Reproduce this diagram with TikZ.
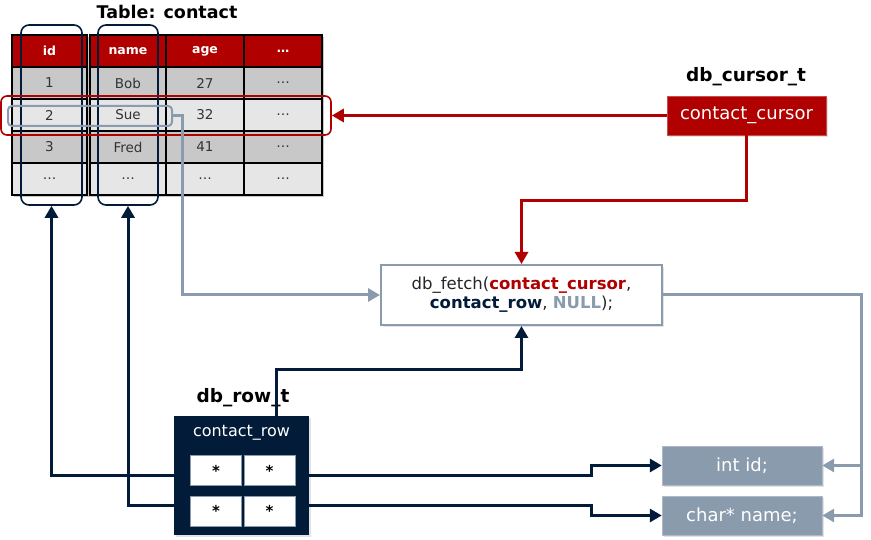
\documentclass[tikz,border=0pt]{standalone}
\usepackage{fontspec}
\setmainfont{DejaVu Sans}
\usetikzlibrary{arrows.meta,calc,positioning,shadows}
\definecolor{dbred}{RGB}{176,0,0}
\definecolor{dbnavy}{RGB}{2,27,56}
\definecolor{dbgray}{RGB}{138,155,174}
\definecolor{rowdark}{RGB}{200,200,200}
\definecolor{rowlight}{RGB}{230,230,230}
\tikzset{%
	shade/.style      = {drop shadow={shadow xshift=2pt, shadow yshift=-2pt, fill=black!22}},
	cell/.style       = {draw=black, line width=1.6pt, minimum height=32pt, inner sep=0pt, text=black!80, font=\fontsize{13.5}{15}\selectfont},
	headcell/.style   = {cell, fill=dbred, text=white, font=\fontsize{12.5}{15}\selectfont\bfseries},
	colmark/.style    = {draw=dbnavy, line width=1.6pt, rounded corners=8pt, minimum width=61pt, minimum height=180pt},
	rowmark/.style    = {draw=dbred, line width=1.6pt, rounded corners=6pt, minimum width=330pt, minimum height=39pt},
	keymark/.style    = {draw=dbgray, line width=2pt, rounded corners=4pt, minimum width=164pt, minimum height=20pt},
	typelabel/.style  = {font=\fontsize{18.5}{20}\selectfont\bfseries},
	cursorbox/.style  = {shade, fill=dbred, draw=dbred!70!white, text=white, minimum width=159pt, minimum height=39pt, font=\fontsize{18}{20}\selectfont},
	fetchbox/.style   = {shade, fill=white, draw=dbgray, line width=2pt, minimum width=281pt, minimum height=60pt, align=center, text=black!85, font=\fontsize{16.5}{19}\selectfont},
	rowbox/.style     = {shade, fill=dbnavy, minimum width=135pt, minimum height=119pt},
	slot/.style       = {fill=white, draw=dbgray, line width=1pt, minimum width=51pt, minimum height=30pt, font=\fontsize{15}{17}\selectfont\bfseries},
	fieldbox/.style   = {shade, fill=dbgray, draw=dbgray!70!white, text=white, minimum width=160pt, minimum height=39pt, font=\fontsize{18}{20}\selectfont},
	redarrow/.style   = {draw=dbred, line width=3pt, -{Triangle[length=12pt,width=13pt]}},
	navyarrow/.style  = {draw=dbnavy, line width=3pt, -{Triangle[length=12pt,width=13pt]}},
	grayarrow/.style  = {draw=dbgray, line width=3pt, -{Triangle[length=12pt,width=13pt]}},
}

\begin{document}
\begin{tikzpicture}[x=1pt,y=-1pt]
	\useasboundingbox (0,0) rectangle (871,540);
	% table
	\node[typelabel, font=\fontsize{17.5}{20}\selectfont\bfseries] (tabletitle) at (167,12) {Table: contact};
	\fill[black!22] (14,37) rectangle (324,197);
	\node[headcell, minimum width=75pt] (t-0-1) at (49.5,51) {id};
	\node[headcell, minimum width=76pt] (t-0-2) at (128,51) {name};
	\node[headcell, minimum width=78pt] (t-0-3) at (205,51) {age};
	\node[headcell, minimum width=78pt] (t-0-4) at (283,51) {\ldots};
	\foreach \f/\a/\b/\c/\d [count=\i] in {rowdark/1/Bob/27/\ldots, rowlight/2/Sue/32/\ldots, rowdark/3/Fred/41/\ldots, rowlight/\ldots/\ldots/\ldots/\ldots} {
		\node[cell, fill=\f, minimum width=75pt] (t-\i-1) at (49.5,51+32*\i) {\a};
		\node[cell, fill=\f, minimum width=76pt] (t-\i-2) at (128,51+32*\i) {\b};
		\node[cell, fill=\f, minimum width=78pt] (t-\i-3) at (205,51+32*\i) {\c};
		\node[cell, fill=\f, minimum width=78pt] (t-\i-4) at (283,51+32*\i) {\d};
	}
	\node[colmark] (colid) at (51.5,115) {};
	\node[colmark, minimum width=60pt] (colname) at (128,115) {};
	\node[rowmark] (selrow) at (166,115.5) {};
	\node[keymark] (selkey) at (90,116) {};
	% cursor and fetch
	\node[typelabel] (cursorlabel) at (746,77) {db\_cursor\_t};
	\node[cursorbox] (cursor) at (746.5,115.5) {contact\_cursor};
	\node[fetchbox] (fetch) at (521.5,295) {db\_fetch(\textcolor{dbred}{\bfseries contact\_cursor},\\ \textcolor{dbnavy}{\bfseries contact\_row}, \textcolor{dbgray}{\bfseries NULL});};
	% row struct
	\node[typelabel] (rowlabel) at (243,398) {db\_row\_t};
	\node[rowbox] (rowbox) at (241.5,475.5) {};
	\node[text=white, font=\fontsize{16}{18}\selectfont] (rowname) at (241.5,433) {contact\_row};
	\node[slot] (slot-1) at (216,470.5) {*};
	\node[slot] (slot-2) at (269.5,470.5) {*};
	\node[slot] (slot-3) at (216,511) {*};
	\node[slot] (slot-4) at (269.5,511) {*};
	\node[fieldbox] (intid) at (742,465.5) {int id;};
	\node[fieldbox] (charname) at (742,515.5) {char* name;};
	% connectors
	\draw[redarrow] (cursor.west) -- (selrow.east);
	\draw[redarrow] (cursor.south) -- ++(0,65) -| (fetch.north);
	\draw[grayarrow] (selkey.east) -- ++(9,0) |- (fetch.west);
	\coordinate (fetchjoin) at (861,295);
	\draw[grayarrow] (fetch.east) -- (fetchjoin) |- (intid.east);
	\draw[grayarrow] (fetchjoin) |- (charname.east);
	\draw[navyarrow] ([xshift=34.5pt]rowbox.north) -- ++(0,-46) -| (fetch.south);
	\draw[navyarrow] (rowbox.west) -| (colid.south);
	\draw[navyarrow] ([yshift=-30pt]rowbox.west) -| (colname.south);
	\draw[navyarrow] (rowbox.east) -| ([xshift=-70pt]intid.west) -- (intid.west);
	\draw[navyarrow] ([yshift=-30pt]rowbox.east) -| ([xshift=-70pt]charname.west) -- (charname.west);
\end{tikzpicture}
\end{document}
